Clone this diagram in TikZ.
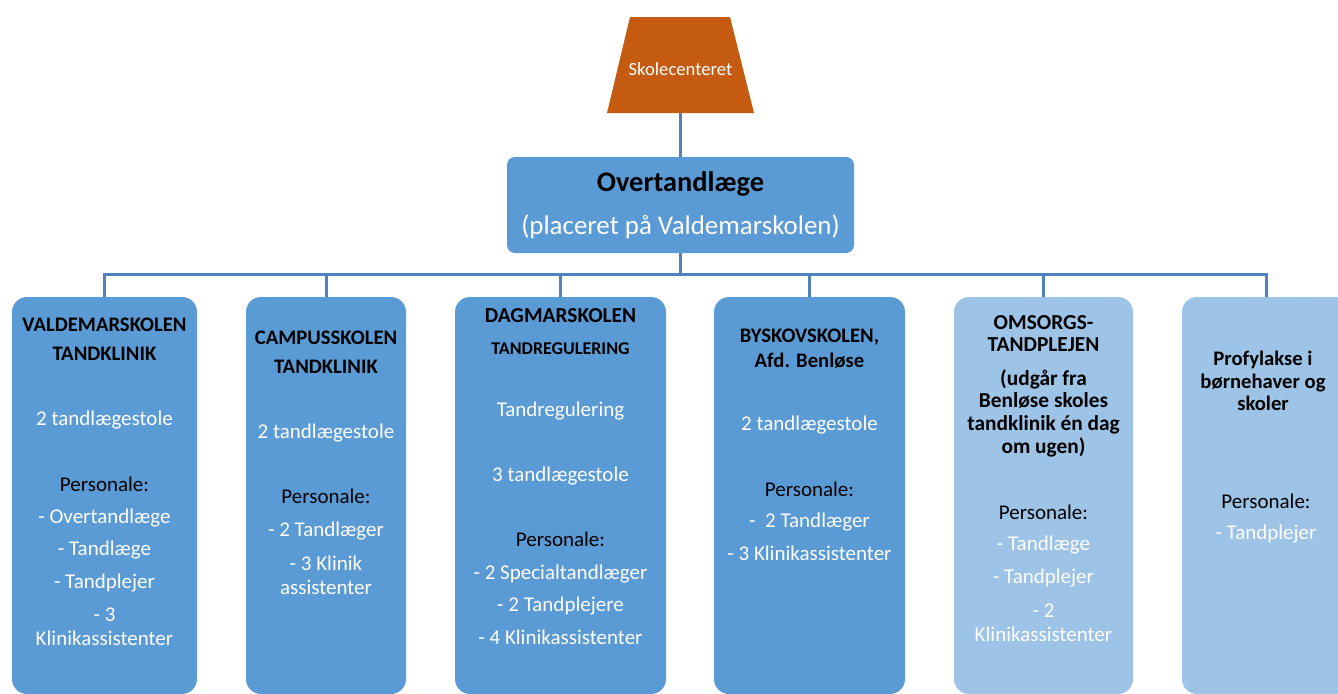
\documentclass[tikz,border=0pt]{standalone}
\usepackage{fontspec}
\setmainfont{Carlito}

\definecolor{centre}{HTML}{C55A11}
\definecolor{unitdark}{HTML}{5B9BD5}
\definecolor{unitlight}{HTML}{9DC3E6}
\definecolor{wire}{HTML}{4F81BD}
\newcommand\pxu{0.75pt}

\tikzset{
    link/.style = {draw = wire, line width = 3*\pxu},
    unit/.style = {inner sep = 0, minimum height = 397*\pxu, rounded corners = 15*\pxu},
    head/.style = {font = \bfseries\fontsize{15.5}{21.75}\selectfont, align = center},
    body/.style = {font = \fontsize{15.75}{18}\selectfont, align = center, text = white},
    staff/.style = {body, text = black},
    single/.style = {text height = 11.5pt, text depth = 3.5pt}
}

\begin{document}
\begin{tikzpicture}[x = \pxu, y = -\pxu]
        \useasboundingbox (0, 0) rectangle (1338, 693);

        % top of the tree
        \fill [centre] (630, 17) -- (730, 17) -- (754, 113) -- (607, 113) -- cycle;
        \node (sc) [text = white, font = \fontsize{14}{16}\selectfont] at (680.5, 69) {Skolecenteret};
        \coordinate (scfoot) at (680.5, 113);
        \node (top) [inner sep = 0, minimum width = 347*\pxu, minimum height = 96*\pxu,
            rounded corners = 8*\pxu, fill = unitdark] at (680.5, 205) {};
        \node (toptitle) [font = \bfseries\fontsize{21.3}{25}\selectfont] at (680.5, 184) {Overtandlæge};
        \node (topnote) [font = \fontsize{20.2}{24}\selectfont, text = white] at (680.5, 227) {(placeret på Valdemarskolen)};

        % the six units
        \node (b1) [unit, minimum width = 185*\pxu, fill = unitdark] at (104.5, 495.5) {};
        \node (b2) [unit, minimum width = 160*\pxu, fill = unitdark] at (326, 495.5) {};
        \node (b3) [unit, minimum width = 211*\pxu, fill = unitdark] at (560.5, 495.5) {};
        \node (b4) [unit, minimum width = 191*\pxu, fill = unitdark] at (809.5, 495.5) {};
        \node (b5) [unit, minimum width = 179*\pxu, fill = unitlight] at (1043.5, 495.5) {};
        \node (b6) [unit, minimum width = 168*\pxu, fill = unitlight] at (1266, 495.5) {};

        % Valdemarskolen
        \node (b1head) [head] at (104.5, 339.5) {VALDEMARSKOLEN\\TANDKLINIK};
        \node (b1chairs) [body, single] at (104.5, 420) {2 tandlægestole};
        \node (b1staff) [staff, single] at (104.5, 486) {Personale:};
        \foreach \y/\t [count = \k] in {518/- Overtandlæge, 550/- Tandlæge, 583/- Tandplejer}
            \node (b1s\k) [body, single] at (104.5, \y) {\t};
        \node (b1s4) [body] at (104.5, 627) {- 3\\Klinikassistenter};

        % Campusskolen
        \node (b2head) [head] at (326, 352.5) {CAMPUSSKOLEN\\TANDKLINIK};
        \node (b2chairs) [body, single] at (326, 433) {2 tandlægestole};
        \node (b2staff) [staff, single] at (326, 498) {Personale:};
        \node (b2s1) [body, single] at (326, 531) {- 2 Tandlæger};
        \node (b2s2) [body] at (326, 575) {- 3 Klinik\\assistenter};

        % Dagmarskolen
        \node (b3head) [head, single, font = \bfseries\fontsize{16}{20}\selectfont] at (560.5, 317) {DAGMARSKOLEN};
        \node (b3sub) [head, single, font = \bfseries\fontsize{13.5}{16}\selectfont] at (560.5, 349) {TANDREGULERING};
        \node (b3kind) [body, single] at (560.5, 411) {Tandregulering};
        \node (b3chairs) [body, single] at (560.5, 476) {3 tandlægestole};
        \node (b3staff) [staff, single] at (560.5, 541) {Personale:};
        \foreach \y/\t [count = \k] in {574/- 2 Specialtandlæger, 606/- 2 Tandplejere, 639/- 4 Klinikassistenter}
            \node (b3s\k) [body, single] at (560.5, \y) {\t};

        % Byskovskolen
        \node (b4head) [head, font = \bfseries\fontsize{15.5}{18.75}\selectfont] at (809.5, 348.5) {BYSKOVSKOLEN,\\Afd. Benløse};
        \node (b4chairs) [body, single] at (809.5, 425) {2 tandlægestole};
        \node (b4staff) [staff, single] at (809.5, 491) {Personale:};
        \node (b4s1) [body, single] at (809.5, 522) {-\ \ 2 Tandlæger};
        \node (b4s2) [body, single] at (809.5, 555) {- 3 Klinikassistenter};

        % Omsorgstandplejen
        \node (b5head) [head, font = \bfseries\fontsize{16}{16.5}\selectfont] at (1043.5, 334) {OMSORGS-\\TANDPLEJEN};
        \node (b5note) [head, font = \bfseries\fontsize{16}{17}\selectfont] at (1043.5, 413) {(udgår fra\\Benløse skoles\\tandklinik én dag\\om ugen)};
        \node (b5staff) [staff, single] at (1043.5, 514) {Personale:};
        \node (b5s1) [body, single] at (1043.5, 545) {- Tandlæge};
        \node (b5s2) [body, single] at (1043.5, 578) {- Tandplejer};
        \node (b5s3) [body] at (1043.5, 623) {- 2\\Klinikassistenter};

        % Profylakse
        \node (b6head) [head, font = \bfseries\fontsize{15.5}{16.9}\selectfont] at (1263, 381) {Profylakse i\\børnehaver og\\skoler};
        \node (b6staff) [staff, single] at (1266, 503) {Personale:};
        \node (b6s1) [body, single] at (1266, 534) {- Tandplejer};

        % connectors
        \coordinate (bus) at (680.5, 274);
        \draw [link] (scfoot) -- (top.north);
        \draw [link] (top.south) -- (bus);
        \foreach \i in {1, ..., 6}
            \draw [link] (bus) -| (b\i.north);
    \end{tikzpicture}
\end{document}
